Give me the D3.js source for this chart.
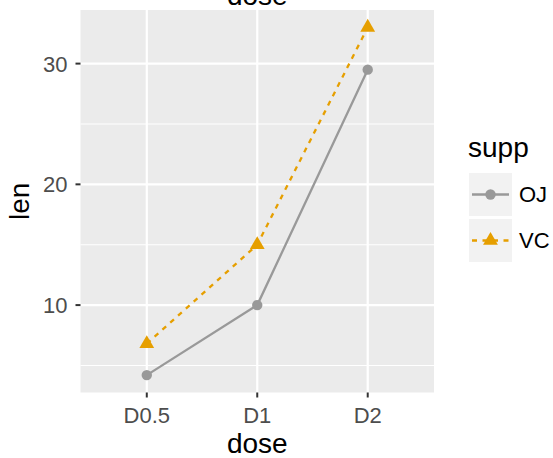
<!DOCTYPE html>
<meta charset="utf-8">
<html>
<style>
body { margin: 0; background: white; }
svg { display: block; font-family: "Liberation Sans", Arial, Helvetica, sans-serif; }
.grid-major { stroke: white; stroke-width: 2.2px; }
.grid-minor { stroke: white; stroke-width: 1.1px; }
.tick-label { fill: #4d4d4d; font-size: 22px; }
.axis-title { fill: black; font-size: 28px; }
</style>
<body>
<script src="https://cdnjs.cloudflare.com/ajax/libs/d3/7.8.5/d3.min.js"></script>
<script>
	var doses = ["D0.5", "D1", "D2"];
	var supps = ["OJ", "VC"];
	var lenOJ = [4.2, 10, 29.5];
	var lenVC = [6.8, 15, 33];
	var yTicks = [10, 20, 30];
	var yMinor = [5, 15, 25];

	var width = 553;
	var height = 458;
	var panel = {left: 80.5, right: 434, top: 10, bottom: 392.5};

	var colors = {OJ: "#999999", VC: "#E69F00"};

	var svg = d3.select("body")
				.append("svg")
				.attr("width", width)
				.attr("height", height);

	var allLen = lenOJ.concat(lenVC);
	var lo = d3.min(allLen), hi = d3.max(allLen);
	var pad = (hi - lo) * 0.05;

	var y = d3.scaleLinear()
		.domain([lo - pad, hi + pad])
		.range([panel.bottom, panel.top]);

	// discrete x with ggplot's 0.6 expansion
	var xPos = d3.scaleLinear()
		.domain([0.4, doses.length + 0.6])
		.range([panel.left, panel.right]);
	var x = function(d) { return xPos(doses.indexOf(d) + 1); };

	svg.append("rect")
		.attr("x", panel.left)
		.attr("y", panel.top)
		.attr("width", panel.right - panel.left)
		.attr("height", panel.bottom - panel.top)
		.attr("fill", "#ebebeb");

	svg.selectAll(".minor")
		.data(yMinor)
		.enter().append("line")
		.attr("class", "grid-minor")
		.attr("x1", panel.left).attr("x2", panel.right)
		.attr("y1", d => y(d)).attr("y2", d => y(d));

	svg.selectAll(".hmajor")
		.data(yTicks)
		.enter().append("line")
		.attr("class", "grid-major")
		.attr("x1", panel.left).attr("x2", panel.right)
		.attr("y1", d => y(d)).attr("y2", d => y(d));

	svg.selectAll(".vmajor")
		.data(doses)
		.enter().append("line")
		.attr("class", "grid-major")
		.attr("x1", d => x(d)).attr("x2", d => x(d))
		.attr("y1", panel.top).attr("y2", panel.bottom);

	// axis ticks and labels
	svg.selectAll(".ytick")
		.data(yTicks)
		.enter().append("line")
		.attr("x1", panel.left - 5).attr("x2", panel.left)
		.attr("y1", d => y(d)).attr("y2", d => y(d))
		.attr("stroke", "#333").attr("stroke-width", 2);

	svg.selectAll(".ylab")
		.data(yTicks)
		.enter().append("text")
		.attr("class", "tick-label")
		.attr("x", panel.left - 13)
		.attr("y", d => y(d))
		.attr("dy", "0.36em")
		.attr("text-anchor", "end")
		.text(d => d);

	svg.selectAll(".xtick")
		.data(doses)
		.enter().append("line")
		.attr("x1", d => x(d)).attr("x2", d => x(d))
		.attr("y1", panel.bottom).attr("y2", panel.bottom + 5)
		.attr("stroke", "#333").attr("stroke-width", 2);

	svg.selectAll(".xlab")
		.data(doses)
		.enter().append("text")
		.attr("class", "tick-label")
		.attr("x", d => x(d))
		.attr("y", 423)
		.attr("text-anchor", "middle")
		.text(d => d);

	var midX = (panel.left + panel.right) / 2;

	svg.append("text")
		.attr("class", "axis-title")
		.attr("x", midX).attr("y", 453)
		.attr("text-anchor", "middle")
		.text("dose");

	// plot title sits mostly above the canvas, as in the original
	svg.append("text")
		.attr("class", "axis-title")
		.attr("x", midX).attr("y", 5)
		.attr("text-anchor", "middle")
		.text("dose");

	svg.append("text")
		.attr("class", "axis-title")
		.attr("transform", "translate(29," + ((panel.top + panel.bottom) / 2) + ") rotate(-90)")
		.attr("text-anchor", "middle")
		.text("len");

	// series
	var series = [
		{name: "OJ", values: lenOJ, dash: null, shape: d3.symbolCircle},
		{name: "VC", values: lenVC, dash: "5,5.5", shape: d3.symbolTriangle}
	];

	var line = d3.line()
		.x((d, i) => x(doses[i]))
		.y(d => y(d));

	series.forEach(function(s) {
		svg.append("path")
			.datum(s.values)
			.attr("d", line)
			.attr("fill", "none")
			.attr("stroke", colors[s.name])
			.attr("stroke-width", 2.3)
			.attr("stroke-dasharray", s.dash);

		var sym = d3.symbol().type(s.shape).size(s.shape === d3.symbolCircle ? 85 : 95);
		svg.selectAll(".pt-" + s.name)
			.data(s.values)
			.enter().append("path")
			.attr("transform", (d, i) => "translate(" + x(doses[i]) + "," + y(d) + ")")
			.attr("d", sym)
			.attr("fill", colors[s.name]);
	});

	// legend
	var legend = svg.append("g").attr("transform", "translate(468,0)");
	legend.append("text")
		.attr("class", "axis-title")
		.attr("x", 0).attr("y", 157)
		.text("supp");

	var keySize = 43;
	var keyTop = [173, 219];
	series.forEach(function(s, i) {
		var g = legend.append("g").attr("transform", "translate(1," + keyTop[i] + ")");
		g.append("rect")
			.attr("width", keySize).attr("height", keySize)
			.attr("fill", "#f2f2f2");
		g.append("line")
			.attr("x1", 3).attr("x2", keySize - 3)
			.attr("y1", keySize / 2).attr("y2", keySize / 2)
			.attr("stroke", colors[s.name])
			.attr("stroke-width", 2.3)
			.attr("stroke-dasharray", s.dash);
		var sym = d3.symbol().type(s.shape).size(s.shape === d3.symbolCircle ? 85 : 95);
		g.append("path")
			.attr("transform", "translate(" + keySize / 2 + "," + keySize / 2 + ")")
			.attr("d", sym)
			.attr("fill", colors[s.name]);
		g.append("text")
			.attr("x", keySize + 7)
			.attr("y", keySize / 2)
			.attr("dy", "0.36em")
			.attr("fill", "black")
			.attr("font-size", "22px")
			.text(s.name);
	});
</script>
</body>
</html>
